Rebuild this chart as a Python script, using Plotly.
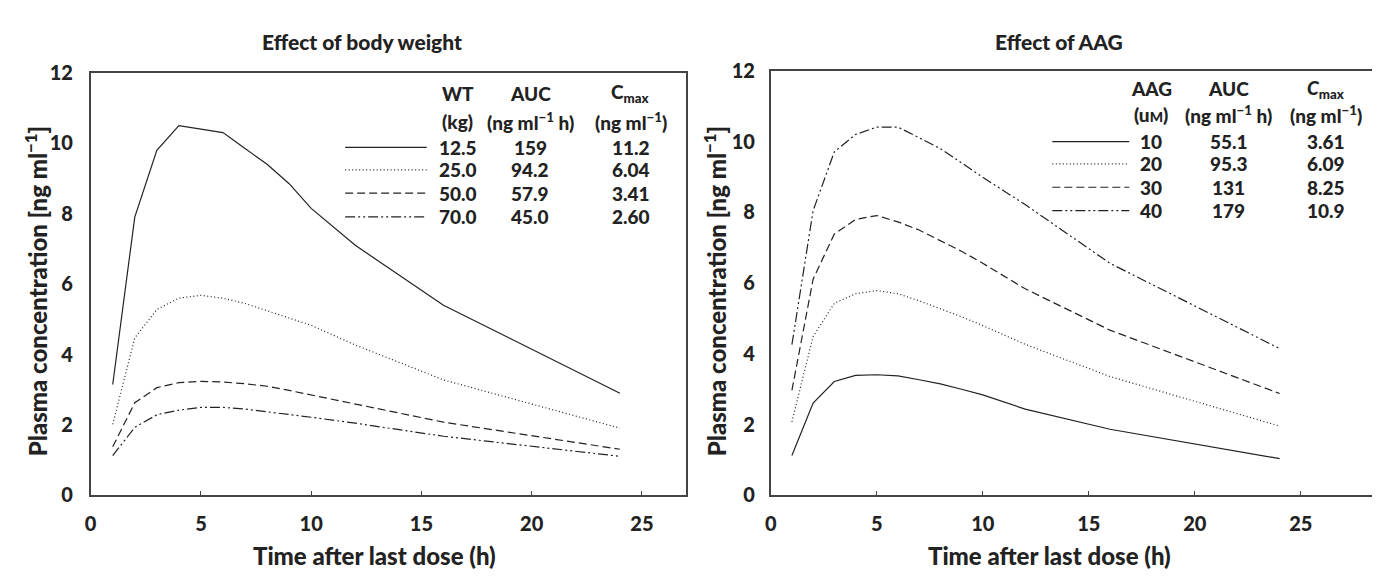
import plotly.graph_objects as go

# ---------------- data ----------------
time_h = [1, 2, 3, 4, 5, 6, 7, 8, 9, 10, 12, 16, 24]

wt_labels = ["12.5", "25.0", "50.0", "70.0"]
wt_auc = ["159", "94.2", "57.9", "45.0"]
wt_cmax = ["11.2", "6.04", "3.41", "2.60"]
wt_12_5 = [3.15, 7.9, 9.8, 10.5, 10.4, 10.3, 9.85, 9.4, 8.85, 8.15, 7.1, 5.4, 2.9]
wt_25_0 = [2.02, 4.47, 5.28, 5.6, 5.68, 5.6, 5.45, 5.25, 5.05, 4.83, 4.27, 3.28, 1.91]
wt_50_0 = [1.38, 2.63, 3.06, 3.2, 3.24, 3.22, 3.17, 3.1, 2.98, 2.85, 2.6, 2.08, 1.31]
wt_70_0 = [1.13, 1.93, 2.29, 2.42, 2.5, 2.5, 2.45, 2.38, 2.3, 2.22, 2.05, 1.68, 1.11]

aag_labels = ["10", "20", "30", "40"]
aag_auc = ["55.1", "95.3", "131", "179"]
aag_cmax = ["3.61", "6.09", "8.25", "10.9"]
aag_10 = [1.13, 2.61, 3.22, 3.39, 3.41, 3.38, 3.27, 3.15, 3.0, 2.84, 2.44, 1.87, 1.04]
aag_20 = [2.08, 4.49, 5.43, 5.70, 5.79, 5.70, 5.5, 5.28, 5.05, 4.80, 4.27, 3.36, 1.96]
aag_30 = [2.97, 6.11, 7.39, 7.80, 7.91, 7.73, 7.5, 7.19, 6.9, 6.56, 5.84, 4.67, 2.88]
aag_40 = [4.26, 8.05, 9.71, 10.2, 10.41, 10.41, 10.11, 9.8, 9.4, 8.99, 8.22, 6.56, 4.15]

x_ticks = [0, 5, 10, 15, 20, 25]
y_ticks = [0, 2, 4, 6, 8, 10, 12]

# ---------------- styles ----------------
FONT = "Lato, 'Open Sans', sans-serif"
INK = "#222222"
WEIGHT = 900
DASHES = ["solid", "1px,2.5px", "8px,4px", "10px,3px,2px,3px,2px,3px"]
LW = 1.2

fig = go.Figure()

left_series = [wt_12_5, wt_25_0, wt_50_0, wt_70_0]
right_series = [aag_10, aag_20, aag_30, aag_40]

for s, d in zip(left_series, DASHES):
    fig.add_trace(go.Scatter(x=time_h, y=s, mode="lines", xaxis="x", yaxis="y",
                             line=dict(color=INK, width=LW, dash=d), showlegend=False))
for s, d in zip(right_series, DASHES):
    fig.add_trace(go.Scatter(x=time_h, y=s, mode="lines", xaxis="x2", yaxis="y2",
                             line=dict(color=INK, width=LW, dash=d), showlegend=False))

axis_common = dict(
    showgrid=False, zeroline=False, showline=True, linecolor="#444444", linewidth=1.5,
    mirror=True, tickfont=dict(family=FONT, size=20, color=INK, weight=WEIGHT),
)
fig.update_layout(
    width=1380, height=577,
    margin=dict(l=0, r=0, t=0, b=0),
    paper_bgcolor="white", plot_bgcolor="white",
    xaxis=dict(domain=[77 / 1380, 675 / 1380], range=[0, 27], tickvals=x_ticks,
               ticks="inside", ticklen=5, tickcolor="#444444", anchor="y",
               ticklabelstandoff=10, **axis_common),
    yaxis=dict(domain=[82 / 577, 523 / 577], range=[0, 12], tickvals=y_ticks,
               ticks="", anchor="x", ticklabelstandoff=12, **axis_common),
    xaxis2=dict(domain=[760 / 1380, 1367 / 1380], range=[0, 28.5], tickvals=x_ticks,
                ticks="inside", ticklen=5, tickcolor="#444444", anchor="y2",
                ticklabelstandoff=10, **axis_common),
    yaxis2=dict(domain=[82 / 577, 525 / 577], range=[0, 12], tickvals=y_ticks,
                ticks="", anchor="x2", ticklabelstandoff=10, **axis_common),
)

ann = []
def text(x, y, s, size=18, xref="paper", yref="paper", xanchor="center", yanchor="middle", angle=0):
    ann.append(dict(x=x, y=y, xref=xref, yref=yref, text=s, showarrow=False,
                    xanchor=xanchor, yanchor=yanchor, textangle=angle,
                    font=dict(family=FONT, size=size, color=INK, weight=WEIGHT)))

# titles
text(350 / 1380, 1 - 21 / 577, "Effect of body weight", size=21)
text(1050 / 1380, 1 - 21 / 577, "Effect of AAG", size=21)
text(362 / 1380, 1 - 558 / 577, "Time after last dose (h)", size=24)
text(1040 / 1380, 1 - 558 / 577, "Time after last dose (h)", size=24)
text(22 / 1380, 1 - 282 / 577, "Plasma concentration [ng ml<sup>−1</sup>]", size=24, angle=-90)
text(704 / 1380, 1 - 282 / 577, "Plasma concentration [ng ml<sup>−1</sup>]", size=24, angle=-90)

# legend tables
shapes = []
def table(xr, yr, head1, head2, cols_x, line_x, ys_head, ys_rows, c1, c2, c3):
    for h, cx in zip(head1, cols_x):
        text(cx, ys_head[0], h, size=19, xref=xr, yref=yr)
    for h, cx in zip(head2, cols_x):
        text(cx, ys_head[1], h, size=19, xref=xr, yref=yr)
    for i, yv in enumerate(ys_rows):
        shapes.append(dict(type="line", xref=xr, yref=yr, x0=line_x[0], x1=line_x[1],
                           y0=yv, y1=yv, line=dict(color=INK, width=LW, dash=DASHES[i])))
        text(cols_x[0], yv, c1[i], size=19, xref=xr, yref=yr)
        text(cols_x[1], yv, c2[i], size=19, xref=xr, yref=yr)
        text(cols_x[2], yv, c3[i], size=19, xref=xr, yref=yr)

table("x", "y",
      ["WT", "AUC", "C<sub>max</sub>"],
      ["(kg)", "(ng ml<sup>−1</sup> h)", "(ng ml<sup>−1</sup>)"],
      [16.64, 19.94, 24.5], [11.54, 15.24],
      [11.42, 10.62], [9.88, 9.24, 8.58, 7.91],
      wt_labels, wt_auc, wt_cmax)
table("x2", "y2",
      ["AAG", "AUC", "<i>C</i><sub>max</sub>"],
      ["(u<span style='font-size:14px'>M</span>)", "(ng ml<sup>−1</sup> h)", "(ng ml<sup>−1</sup>)"],
      [17.95, 21.6, 26.2], [13.28, 16.91],
      [11.5, 10.77], [10.0, 9.37, 8.71, 8.05],
      aag_labels, aag_auc, aag_cmax)

fig.update_layout(annotations=ann, shapes=shapes)
fig.write_html("out.html")
